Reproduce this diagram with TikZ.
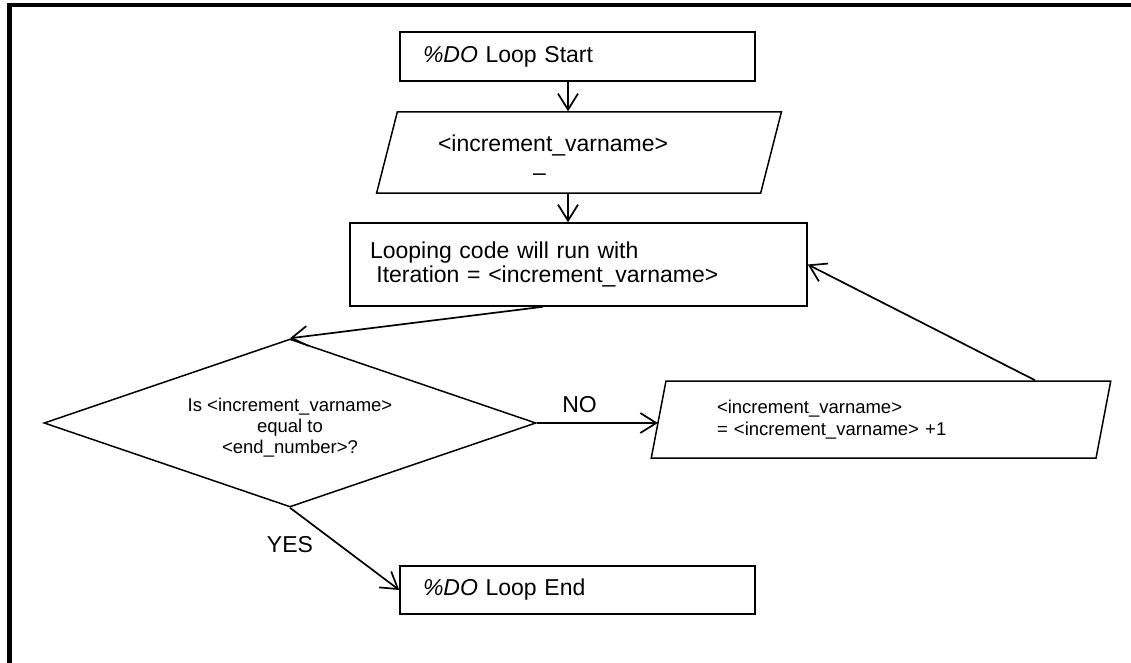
\documentclass[tikz,border=0pt]{standalone}
\usepackage{fontspec}
\setmainfont{Liberation Sans}
\usepackage{tikz}
\usetikzlibrary{positioning,shapes.geometric,arrows.meta}

\begin{document}
\begin{tikzpicture}[x=1pt,y=-1pt,
  every node/.style={inner sep=0pt,font=\fontsize{23}{24}\selectfont},
  procbox/.style={draw,line width=1.5pt,rectangle,align=left},
  iobox/.style={draw,line width=1.5pt,trapezium,trapezium stretches=true,trapezium left angle=74,trapezium right angle=106,align=left},
  testbox/.style={draw,line width=1.5pt,diamond,aspect=2.93,align=center,font=\fontsize{18.5}{21}\selectfont},
  flow/.style={line width=1.7pt,-{Straight Barb[length=16pt,width=20pt]}}]
\useasboundingbox (0,0) rectangle (1131,663);
\draw[line width=4.5pt] (9.5,663) -- (9.5,5) -- (1131,5);
\node[procbox,minimum width=355pt,minimum height=49pt,text width=309pt] (start) at (577.5,56.5) {\textit{\%DO} Loop Start};
\node[iobox,minimum width=406pt,minimum height=81pt,text width=282pt] (init) at (579,152.5) {\rule{0pt}{27.5pt}<increment\_varname>\\[4.5pt]\hspace*{95pt}–};
\node[procbox,minimum width=457pt,minimum height=83pt,text width=417pt] (loopcode) at (578.5,264.5) {Looping code will run with\\\hspace*{6.4pt}Iteration = <increment\_varname>};
\node[testbox,minimum width=492pt,minimum height=168pt] (decide) at (290,423) {\rule{0pt}{23.5pt}Is <increment\_varname>\\equal to\\<end\_number>?};
\node[iobox,minimum width=462pt,minimum height=77pt,text width=328pt,font=\fontsize{18.5}{22}\selectfont] (incr) at (881,419.5) {<increment\_varname>\\= <increment\_varname> +1};
\node[procbox,minimum width=355pt,minimum height=48pt,text width=309pt] (finish) at (577.5,590) {\textit{\%DO} Loop End};
\draw[flow] ([xshift=-9.5pt]start.south) -- ([xshift=-9.5pt]start.south |- init.north);
\draw[flow] ([xshift=-11pt]init.south) -- ([xshift=-11pt]init.south |- loopcode.north);
\draw[flow] ([xshift=-35.5pt]loopcode.south) -- (decide.north);
\draw[flow] (decide.east) -- (decide.east -| incr.west);
\draw[flow] ([xshift=154pt]incr.north) -- (loopcode.east);
\draw[flow] (decide.south) -- (finish.west);
\node[anchor=base] (nolab) at (579.5,412) {NO};
\node[anchor=base] (yeslab) at (290,552) {YES};
\end{tikzpicture}
\end{document}
